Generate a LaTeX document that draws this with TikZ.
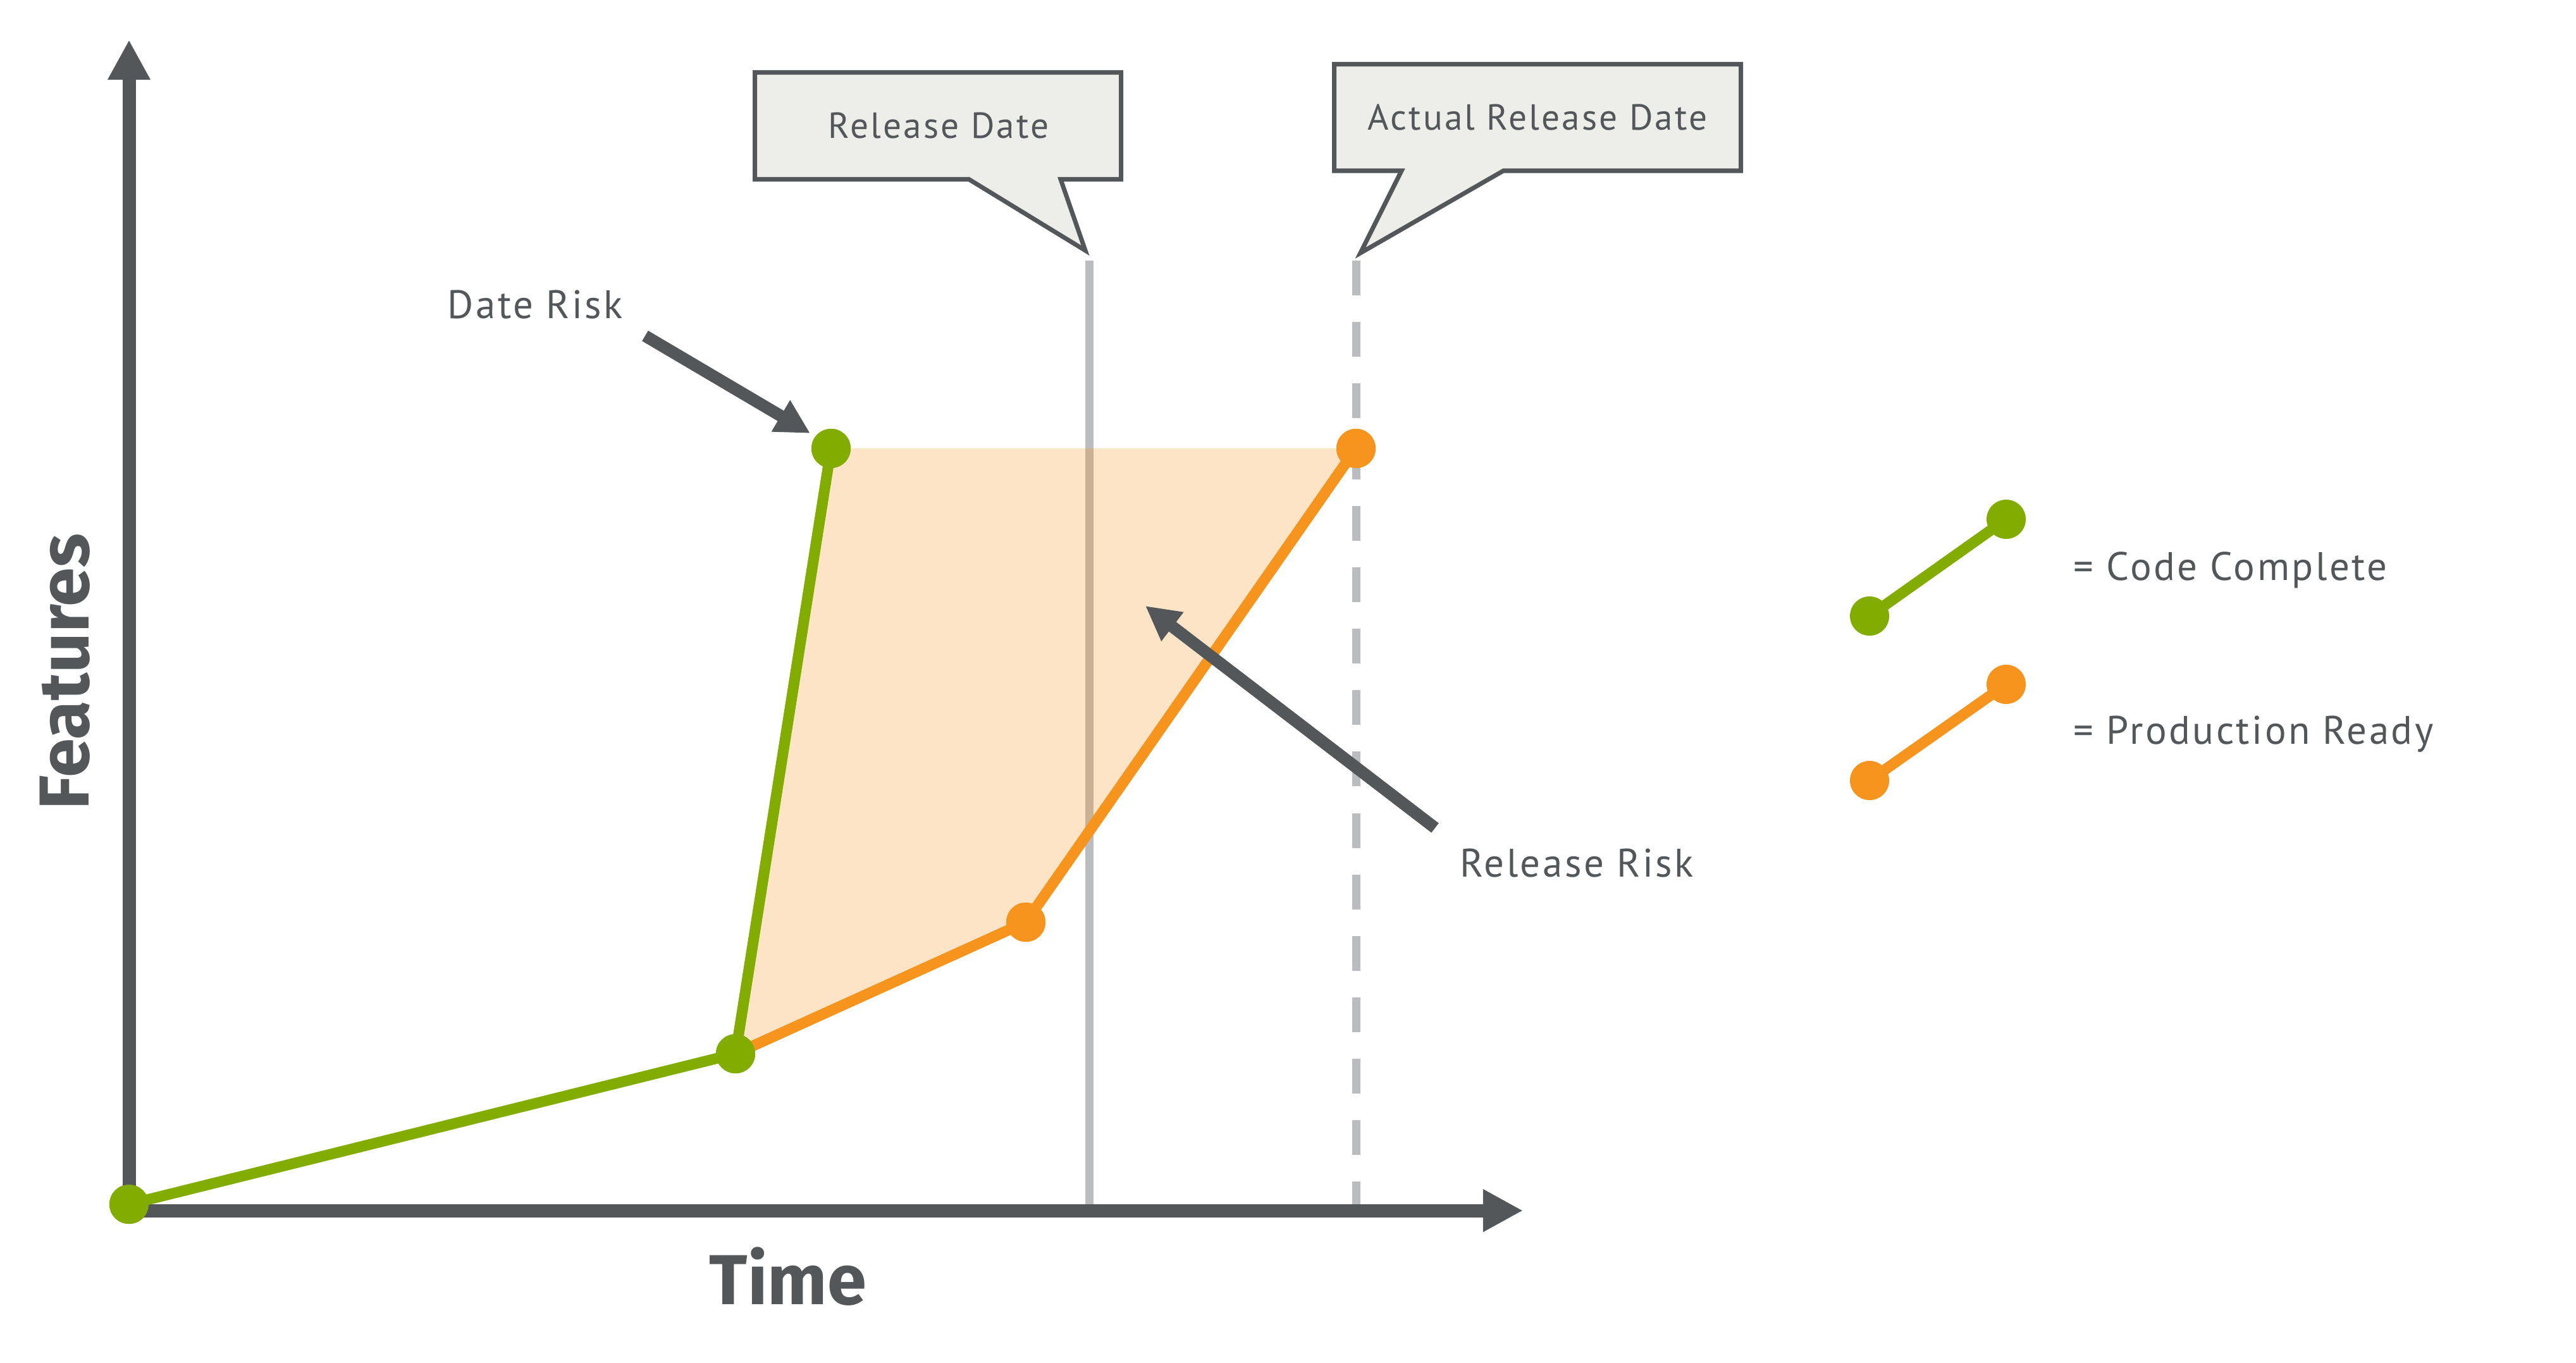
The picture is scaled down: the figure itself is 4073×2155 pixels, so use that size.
\documentclass[tikz,border=0pt]{standalone}
\usepackage{fontspec}
\usetikzlibrary{arrows.meta}
\newfontfamily\lblfont[LetterSpace=5.5]{PT Sans}
\newfontfamily\boldfont{Fira Sans Bold}
\definecolor{ink}{HTML}{53575A}
\definecolor{cgreen}{HTML}{82AD00}
\definecolor{corange}{HTML}{F7941E}
\definecolor{cgrey}{HTML}{BBBCBF}
\definecolor{cfill}{HTML}{EDEDE9}
\tikzset{
  axisline/.style={draw=ink, line width=5.97pt, -{Triangle[length=0.63cm, width=0.63cm]}},
  pointer/.style={draw=ink, line width=5.4pt, -{Triangle[length=0.54cm, width=0.54cm]}},
  greenline/.style={draw=cgreen, line width=4.84pt},
  orangeline/.style={draw=corange, line width=4.84pt},
  gdot/.style={circle, fill=cgreen, minimum size=0.62cm, inner sep=0pt},
  odot/.style={circle, fill=corange, minimum size=0.62cm, inner sep=0pt},
  callout/.style={draw=ink, fill=cfill, line width=2pt, line join=miter},
  lbl/.style={text=ink, inner sep=0pt, font=\lblfont\fontsize{17.9pt}{20pt}\selectfont},
  ctext/.style={text=ink, inner sep=0pt, font=\lblfont\fontsize{16.3pt}{18pt}\selectfont},
  bigtext/.style={text=ink, inner sep=0pt, font=\boldfont\fontsize{31.8pt}{34pt}\selectfont},
}
\begin{document}
\begin{tikzpicture}[x=0.01cm, y=-0.01cm]
\useasboundingbox (0,0) rectangle (4073,2155);

% coordinates
\coordinate (o) at (204,1914);
\coordinate (ytop) at (204,63);
\coordinate (xend) at (2408,1914);
\coordinate (rdtop) at (1722,412);
\coordinate (rdbot) at (1722,1904);
\coordinate (ardtop) at (2144,412);
\coordinate (ardbot) at (2144,1904);

% release date lines
\draw[cgrey, line width=3.7pt] (rdtop) -- (rdbot);
\draw[cgrey, line width=3.7pt, dash pattern=on 0.55cm off 0.42cm] (ardtop) -- (ardbot);

% points
\node[gdot] (p0) at (204,1904) {};
\node[gdot] (p1) at (1163,1666) {};
\node[gdot] (gt) at (1314,709) {};
\node[odot] (p2) at (1622,1458) {};
\node[odot] (ot) at (2144,709) {};

% risk area
\fill[corange, opacity=0.25] (p1.center) -- (gt.center) -- (ot.center) -- (p2.center) -- cycle;

% axes
\draw[axisline] (o) -- (ytop);
\draw[axisline] (o) -- (xend);

% series
\draw[greenline] (p0.center) -- (p1.center) -- (gt.center);
\draw[orangeline] (p1.center) -- (p2.center) -- (ot.center);

% redraw dots on top
\node[gdot] at (p0) {};
\node[gdot] at (p1) {};
\node[gdot] at (gt) {};
\node[odot] at (p2) {};
\node[odot] at (ot) {};

% callouts
\draw[callout] (1193.5,114.5) -- (1772.5,114.5) -- (1772.5,283.5) -- (1677,283.5) -- (1716,396) -- (1532,283.5) -- (1193.5,283.5) -- cycle;
\node[ctext, anchor=base] (rd) at (1484,219) {Release Date};
\draw[callout] (2109.5,101.5) -- (2752.5,101.5) -- (2752.5,270) -- (2377,270) -- (2151,400) -- (2216,270) -- (2109.5,270) -- cycle;
\node[ctext, anchor=base] (ard) at (2431,206) {Actual Release Date};

% labels and pointers
\node[lbl, anchor=base west] (dr) at (707,503) {Date Risk};
\coordinate (drs) at (1020,531);
\coordinate (drt) at (1281,685);
\draw[pointer] (drs) -- (drt);
\node[lbl, anchor=base west] (rr) at (2308,1386) {Release Risk};
\coordinate (rrs) at (2269,1309);
\coordinate (rrt) at (1811,958);
\draw[pointer] (rrs) -- (rrt);

% axis titles
\node[bigtext, anchor=base] (time) at (1246,2062) {Time};
\node[bigtext, anchor=base, rotate=90] (feat) at (140,1062) {Features};

% legend
\node[gdot] (lg1) at (2956,974) {};
\node[gdot] (lg2) at (3172,821) {};
\draw[greenline] (lg1.center) -- (lg2.center);
\node[odot] (lo1) at (2956,1234) {};
\node[odot] (lo2) at (3172,1082) {};
\draw[orangeline] (lo1.center) -- (lo2.center);
\node[lbl, anchor=base west] (lgt1) at (3278,917) {= Code Complete};
\node[lbl, anchor=base west] (lgt2) at (3278,1176) {= Production Ready};
\end{tikzpicture}
\end{document}
